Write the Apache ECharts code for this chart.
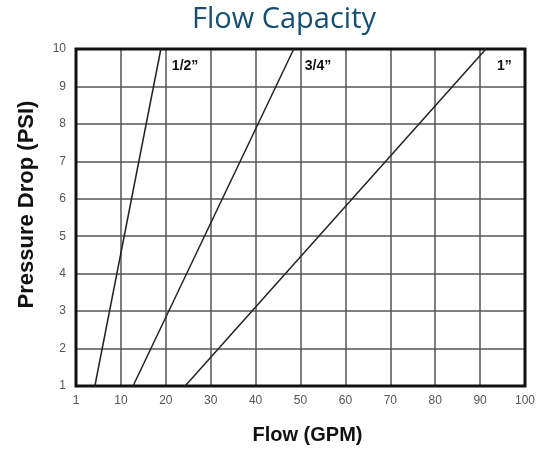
<!DOCTYPE html>
<html>
<head>
<meta charset="utf-8">
<script src="https://cdn.jsdelivr.net/npm/echarts@6/dist/echarts.min.js"></script>
<style>
  html, body { margin: 0; padding: 0; background: #fff; }
  #main { width: 539px; height: 450px; }
</style>
</head>
<body>
<div id="main"></div>
<script>
// valve sizes and the two ends of each straight line (flow at 1 psi and at 10 psi)
// x values are positions on the axis: 0 is the "1" tick, then 10, 20 ... 100
var sizes = ['1/2\u201D', '3/4\u201D', '1\u201D'];
var flowLow = [4.2, 12.7, 24.3];
var flowHigh = [18.9, 48.5, 91.3];
var pressureEnds = [1, 10];
var xTicks = ['1', '10', '20', '30', '40', '50', '60', '70', '80', '90', '100'];

var myChart = echarts.init(document.getElementById('main'));

var series = sizes.map(function (name, i) {
    return {
        name: name,
        type: 'line',
        symbol: 'none',
        silent: true,
        data: [[flowLow[i], pressureEnds[0]], [flowHigh[i], pressureEnds[1]]],
        lineStyle: { color: '#222', width: 1.5 },
        endLabel: {
            show: true,
            formatter: name,
            offset: [3, 17],
            color: '#111',
            fontWeight: 'bold',
            fontSize: 14,
            fontFamily: 'Liberation Sans'
        }
    };
});

option = {
    animation: false,
    title: {
        text: 'Flow Capacity',
        left: 187,
        top: 0,
        textStyle: {
            fontFamily: 'Open Sans',
            fontWeight: 'normal',
            fontSize: 29,
            color: '#164e72'
        }
    },
    grid: {
        left: 76,
        right: 14,
        top: 49,
        bottom: 63,
        show: true,
        borderColor: '#111',
        borderWidth: 3,
        z: 3
    },
    xAxis: {
        type: 'value',
        min: 0,
        max: 100,
        interval: 10,
        name: 'Flow (GPM)',
        nameLocation: 'middle',
        nameGap: 39,
        nameTextStyle: {
            fontFamily: 'Liberation Sans', fontWeight: 'bold', fontSize: 20, color: '#111',
            padding: [0, 0, 0, 14]
        },
        axisLine: { show: false },
        axisTick: { show: false },
        axisLabel: {
            margin: 9,
            color: '#555',
            fontFamily: 'Liberation Sans',
            fontSize: 12,
            formatter: function (v) { return xTicks[Math.round(v / 10)]; }
        },
        splitLine: { lineStyle: { color: '#555', width: 1.5 } }
    },
    yAxis: {
        type: 'value',
        min: 1,
        max: 10,
        interval: 1,
        name: 'Pressure Drop (PSI)',
        nameLocation: 'middle',
        nameGap: 38,
        nameTextStyle: {
            fontFamily: 'Liberation Sans', fontWeight: 'bold', fontSize: 22, color: '#111',
            padding: [0, 0, 0, 26]
        },
        axisLine: { show: false },
        axisTick: { show: false },
        axisLabel: {
            margin: 10,
            color: '#555',
            fontFamily: 'Liberation Sans',
            fontSize: 12
        },
        splitLine: { lineStyle: { color: '#555', width: 1.5 } }
    },
    series: series
};

myChart.setOption(option);
</script>
</body>
</html>
